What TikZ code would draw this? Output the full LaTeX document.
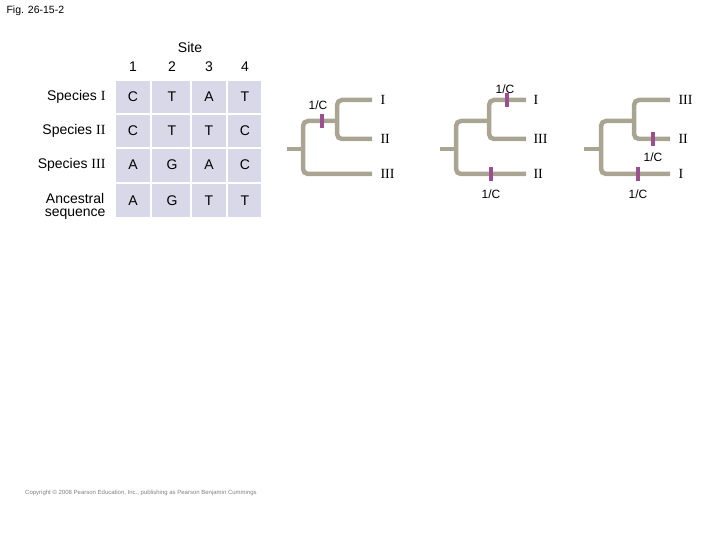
\documentclass[tikz,border=0pt]{standalone}
\usepackage{fontspec}
\setmainfont{Liberation Sans}
\newfontfamily\rn{Liberation Serif}
\begin{document}
\begin{tikzpicture}[x=1pt,y=-1pt,
  br/.style={draw=treec,line width=4.5pt,rounded corners=5pt},
  mk/.style={draw=markc,line width=4pt},
  cell/.style={fill=cellc,draw=white,line width=1.5pt},
  tx/.style={font=\fontsize{14}{15}\selectfont},
  lb/.style={font=\rn\fontsize{14}{15}\selectfont,anchor=west},
  mc/.style={font=\fontsize{12}{13}\selectfont}]
\definecolor{treec}{HTML}{A9A592}
\definecolor{markc}{HTML}{9A4F8E}
\definecolor{cellc}{HTML}{D9D8E8}
\useasboundingbox (0,0) rectangle (720,540);
\node[anchor=north west,font=\fontsize{10.5}{11}\selectfont] (fig) at (3,2) {Fig. 26-15-2};
% table
\foreach \c/\xa/\xb in {1/115/151,2/151/191,3/191/227,4/227/262}
  \foreach \r/\ya/\yb in {1/80/114,2/114/148,3/148/183,4/183/218}
    \path[cell] (\xa,\ya) rectangle (\xb,\yb);
\node[tx] (site) at (190,47) {Site};
\foreach \c/\x in {1/133,2/172,3/209,4/245} \node[tx] (h\c) at (\x,67) {\c};
\node[tx,anchor=east] (s1) at (109,97) {Species {\rn I}};
\node[tx,anchor=east] (s2) at (109,131) {Species {\rn II}};
\node[tx,anchor=east] (s3) at (109,165) {Species {\rn III}};
\node[tx,anchor=east,align=center] (s4) at (109,206) {Ancestral\\[-2pt]sequence};
\foreach \r/\y/\a/\b/\cc/\d in {1/97/C/T/A/T,2/131/C/T/T/C,3/165/A/G/A/C,4/201/A/G/T/T}{
  \node[tx] (c\r a) at (133,\y) {\a};
  \node[tx] (c\r b) at (172,\y) {\b};
  \node[tx] (c\r c) at (209,\y) {\cc};
  \node[tx] (c\r d) at (245,\y) {\d};}
% tree 1
\draw[br] (287,149) -- (303,149);
\draw[br] (372,174) -- (303,174) -- (303,121) -- (337,121);
\draw[br] (372,100) -- (337,100) -- (337,139) -- (372,139);
\draw[mk] (322,114) -- (322,128);
\node[mc] (m1) at (318,105) {1/C};
\node[lb] (t1a) at (377,100) {I};
\node[lb] (t1b) at (377,139) {II};
\node[lb] (t1c) at (377,174) {III};
% tree 2
\draw[br] (440,149) -- (456,149);
\draw[br] (526,174) -- (456,174) -- (456,121) -- (489,121);
\draw[br] (526,100) -- (489,100) -- (489,139) -- (526,139);
\draw[mk] (507,93) -- (507,107);
\draw[mk] (491,167) -- (491,181);
\node[mc] (m2) at (505,89) {1/C};
\node[mc] (m3) at (491,194) {1/C};
\node[lb] (t2a) at (530,100) {I};
\node[lb] (t2b) at (530,139) {III};
\node[lb] (t2c) at (530,174) {II};
% tree 3
\draw[br] (584,149) -- (601,149);
\draw[br] (670,174) -- (601,174) -- (601,121) -- (634,121);
\draw[br] (670,100) -- (634,100) -- (634,139) -- (670,139);
\draw[mk] (653,132) -- (653,146);
\draw[mk] (638,167) -- (638,181);
\node[mc] (m4) at (653,157) {1/C};
\node[mc] (m5) at (638,194) {1/C};
\node[lb] (t3a) at (675,100) {III};
\node[lb] (t3b) at (675,139) {II};
\node[lb] (t3c) at (675,174) {I};
\node[font=\fontsize{6}{6}\selectfont,text=gray] (cp) at (141,493) {Copyright © 2008 Pearson Education, Inc., publishing as Pearson Benjamin Cummings};
\end{tikzpicture}
\end{document}
